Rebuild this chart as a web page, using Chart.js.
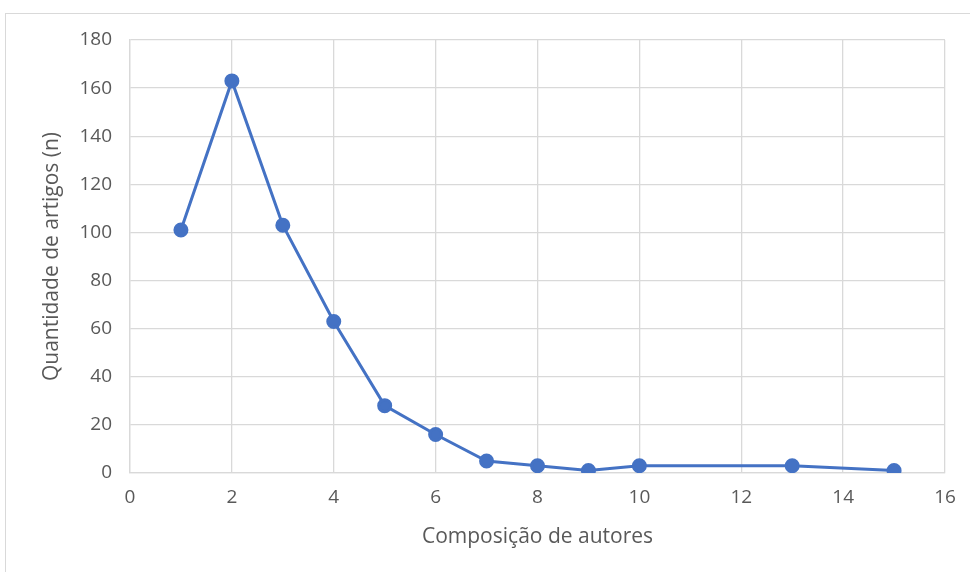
<!DOCTYPE html>
<html><head><meta charset="utf-8">
<script src="https://cdn.jsdelivr.net/npm/chart.js@4/dist/chart.umd.min.js"></script>
<style>
html,body{margin:0;padding:0;background:#fff;overflow:hidden;}
#wrap{position:relative;width:970px;height:572px;}
#frame{position:absolute;left:5px;top:13px;width:2000px;height:2000px;border:1.5px solid #d9d9d9;box-sizing:border-box;}
canvas{position:absolute;left:0;top:0;}
</style></head>
<body><div id="wrap"><div id="frame"></div><canvas id="c" width="970" height="572"></canvas></div>
<script>
const authors = [1, 2, 3, 4, 5, 6, 7, 8, 9, 10, 13, 15];
const articles = [101, 163, 103, 63, 28, 16, 5, 3, 1, 3, 3, 1];
const xTitle = "Composição de autores";
const yTitle = "Quantidade de artigos (n)";

const pts = authors.map((x, i) => ({x: x, y: articles[i]}));
const fontFam = "'Open Sans', 'Liberation Sans', sans-serif";
new Chart(document.getElementById('c'), {
  type: 'scatter',
  data: {datasets: [{
    data: pts, showLine: true, borderColor: '#4472C4', backgroundColor: '#4472C4',
    borderWidth: 3, pointRadius: 6, pointHoverRadius: 6, tension: 0
  }]},
  options: {
    responsive: false, animation: false,
    layout: {padding: {left: 0, right: 25, top: 40, bottom: 0}},
    plugins: {legend: {display: false}, tooltip: {enabled: false}},
    scales: {
      x: {
        type: 'linear', min: 0, max: 16,
        ticks: {stepSize: 2, color: '#595959', font: {family: fontFam, size: 19}, padding: 13},
        grid: {color: '#d9d9d9', lineWidth: 1.3, drawTicks: false},
        border: {color: '#d9d9d9', width: 1.3},
        title: {display: true, text: xTitle, color: '#595959', font: {family: fontFam, size: 21}, padding: {top: 0, bottom: 22}},
        afterFit: s => { s.height = 99; }
      },
      y: {
        min: 0, max: 180,
        ticks: {stepSize: 20, color: '#595959', font: {family: fontFam, size: 19}, padding: 18},
        grid: {color: '#d9d9d9', lineWidth: 1.3, drawTicks: false},
        border: {color: '#d9d9d9', width: 1.3},
        title: {display: true, text: yTitle, color: '#595959', font: {family: fontFam, size: 21}, padding: {top: 39, bottom: 0}},
        afterFit: s => { s.width = 130; }
      }
    }
  }
});
</script></body></html>
